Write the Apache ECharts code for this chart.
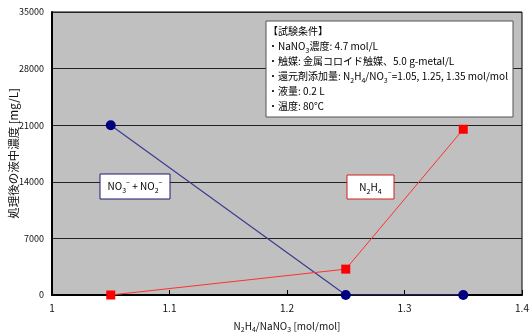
<!DOCTYPE html>
<html>
<head>
<meta charset="utf-8">
<script src="https://cdn.jsdelivr.net/npm/echarts@6/dist/echarts.min.js"></script>
<style>
  html, body { margin: 0; padding: 0; background: #ffffff; }
  #chart { width: 531px; height: 333px; }
</style>
</head>
<body>
<div id="chart"></div>
<script>
// N2H4/NaNO3 molar ratio tested
const ratios = [1.05, 1.25, 1.35];
// Residual concentrations after treatment [mg/L]
const nitrateNitrite = [21000, 0, 0];
const hydrazine = [0, 3200, 20500];
// Axis ticks
const xTicks = [1, 1.1, 1.2, 1.3, 1.4];
const yTicks = [0, 7000, 14000, 21000, 28000, 35000];
const yTitle = '処理後の液中濃度 [mg/L]';

const FONT = '"Noto Sans CJK JP", "Noto Sans", sans-serif';
const chart = echarts.init(document.getElementById('chart'), null, { renderer: 'canvas' });

const sub = { fontSize: 7, fontFamily: FONT, color: '#111', verticalAlign: 'bottom', lineHeight: 15 };
const sup = { fontSize: 7, fontFamily: FONT, color: '#111', verticalAlign: 'top', lineHeight: 15 };
const base = { fontSize: 10, fontFamily: FONT, color: '#111', lineHeight: 15 };

const condLines = [
  '{t|【試験条件】}',
  '{t|・NaNO}{s|3}{t|濃度: 4.7 mol/L}',
  '{t|・触媒: 金属コロイド触媒、5.0 g-metal/L}',
  '{t|・還元剤添加量: N}{s|2}{t|H}{s|4}{t|/NO}{s|3}{p|−}{t|=1.05, 1.25, 1.35 mol/mol}',
  '{t|・液量: 0.2 L}',
  '{t|・温度: 80℃}'
];

chart.setOption({
  animation: false,
  backgroundColor: '#ffffff',
  grid: {
    left: 52, right: 9, top: 12, bottom: 38, containLabel: false, outerBoundsMode: 'none',
    show: true, backgroundColor: '#c0c0c0', borderColor: '#000', borderWidth: 1
  },
  xAxis: {
    type: 'value', min: xTicks[0], max: xTicks[xTicks.length - 1], interval: 0.1,
    axisLine: { show: true, lineStyle: { color: '#000', width: 2 } },
    axisTick: { show: true, inside: true, length: 5, lineStyle: { color: '#000' } },
    axisLabel: { color: '#111', fontSize: 10, fontFamily: FONT, margin: 8, formatter: v => String(+v.toFixed(1)) },
    splitLine: { show: false },
    name: '{t|N}{s|2}{t|H}{s|4}{t|/NaNO}{s|3}{t| [mol/mol]}',
    nameLocation: 'middle', nameGap: 25,
    nameTextStyle: { rich: { t: { fontSize: 10, fontFamily: FONT, color: '#111', lineHeight: 13 }, s: { fontSize: 7, fontFamily: FONT, color: '#111', verticalAlign: 'bottom', lineHeight: 13 } } }
  },
  yAxis: {
    type: 'value', min: yTicks[0], max: yTicks[yTicks.length - 1], interval: 7000,
    axisLine: { show: true, lineStyle: { color: '#000', width: 2 } },
    axisTick: { show: false },
    axisLabel: { color: '#111', fontSize: 9, fontFamily: FONT, margin: 8, formatter: v => String(v) },
    splitLine: { show: true, lineStyle: { color: '#222', width: 1 } }
  },
  series: [
    {
      name: 'NO3- + NO2-', type: 'line',
      data: ratios.map((x, i) => [x, nitrateNitrite[i]]),
      symbol: 'circle', symbolSize: 10,
      itemStyle: { color: '#000080' },
      lineStyle: { color: '#3c3c90', width: 1.2 }
    },
    {
      name: 'N2H4', type: 'line',
      data: ratios.map((x, i) => [x, hydrazine[i]]),
      symbol: 'rect', symbolSize: 9,
      itemStyle: { color: '#ff0000' },
      lineStyle: { color: '#ff3030', width: 1 }
    }
  ],
  graphic: [
    {
      type: 'text', left: 8, top: 88, rotation: Math.PI / 2,
      style: { text: yTitle, fontSize: 11.5, fontFamily: FONT, fill: '#111' }
    },
    {
      type: 'rect', shape: { x: 266, y: 21, width: 247, height: 96 },
      style: { fill: '#ffffff', stroke: '#555', lineWidth: 1 }, z: 10
    },
    {
      type: 'text', x: 268, y: 24, z: 11,
      style: { text: condLines.join('\n'), rich: { t: base, s: sub, p: sup } }
    },
    {
      type: 'rect', shape: { x: 100, y: 174, width: 70, height: 25 },
      style: { fill: '#ffffff', stroke: '#1a1a70', lineWidth: 1 }, z: 10
    },
    {
      type: 'text', x: 135, y: 186.5, z: 11,
      style: {
        text: '{t|NO}{s|3}{p|−}{t| + NO}{s|2}{p|−}', align: 'center', verticalAlign: 'middle',
        rich: { t: base, s: sub, p: sup }
      }
    },
    {
      type: 'rect', shape: { x: 347, y: 175, width: 47, height: 24 },
      style: { fill: '#ffffff', stroke: '#d02020', lineWidth: 1 }, z: 10
    },
    {
      type: 'text', x: 370.5, y: 187, z: 11,
      style: {
        text: '{t|N}{s|2}{t|H}{s|4}', align: 'center', verticalAlign: 'middle',
        rich: { t: base, s: sub }
      }
    }
  ]
});
</script>
</body>
</html>
